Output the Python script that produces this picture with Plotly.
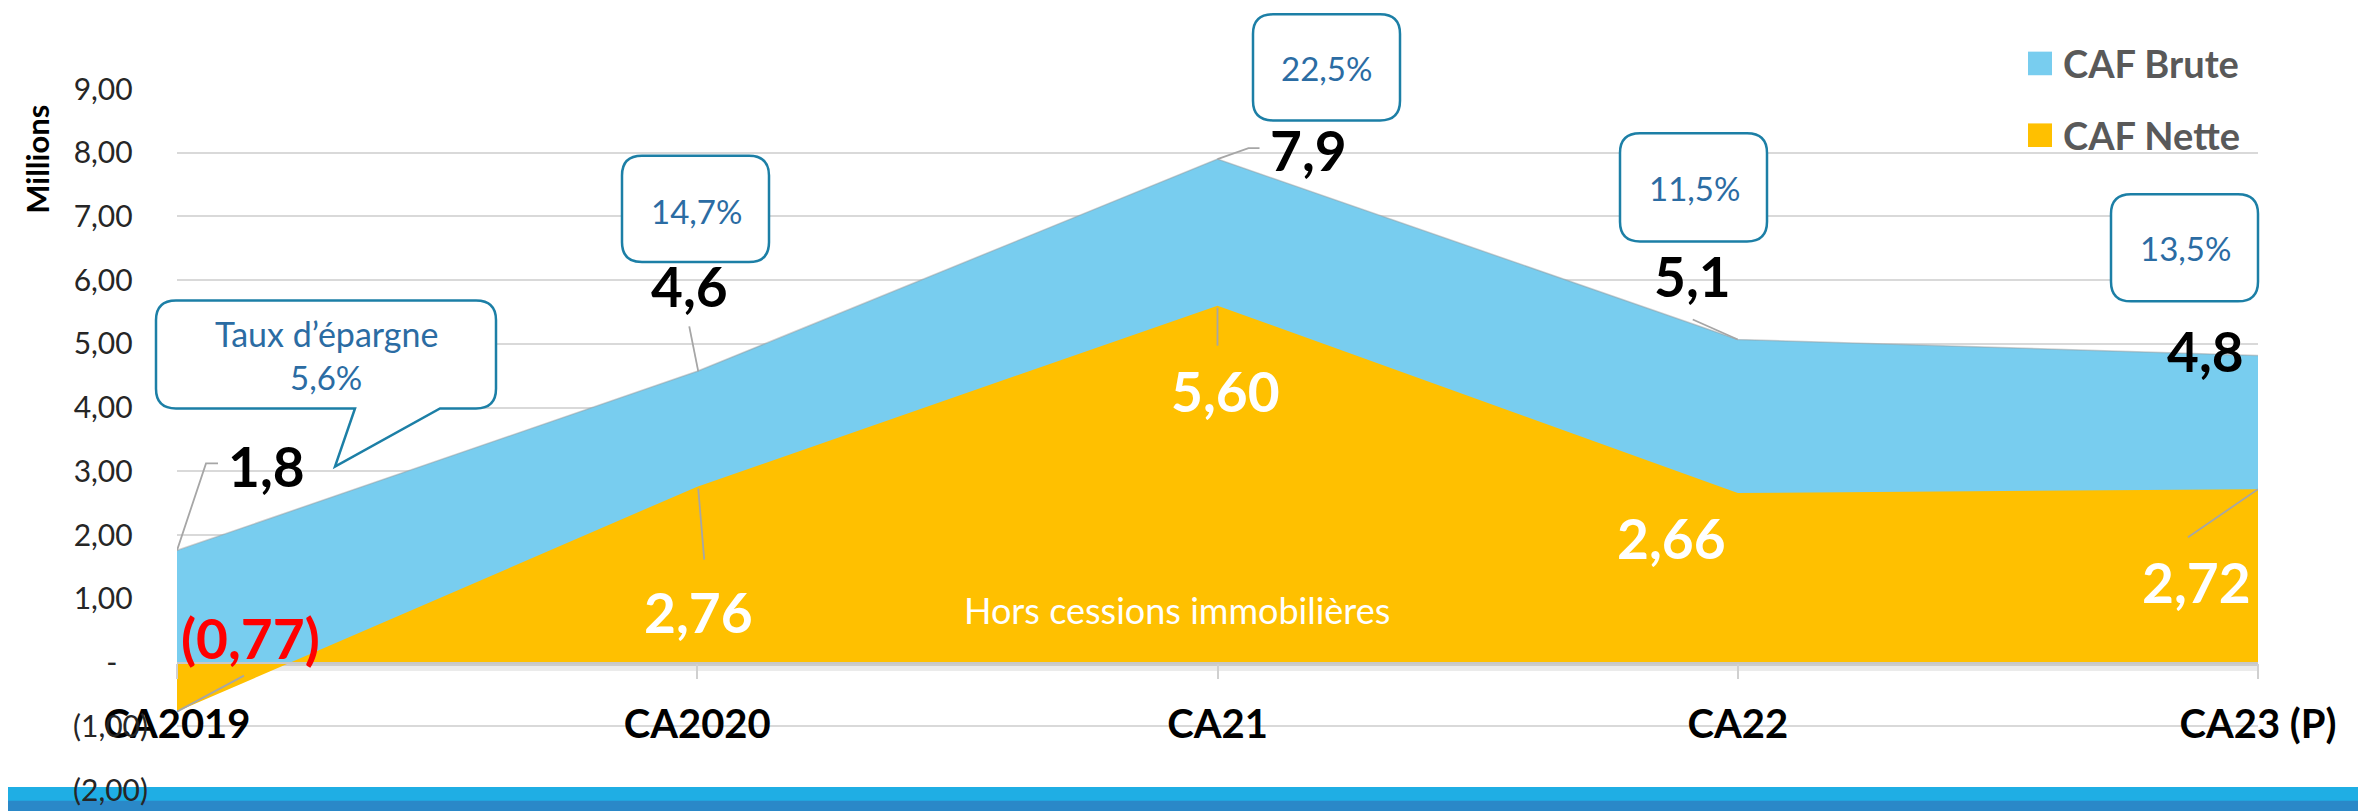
import plotly.graph_objects as go

# ---------------- data ----------------
categories = ["CA2019", "CA2020", "CA21", "CA22", "CA23 (P)"]
caf_brute = [1.76, 4.57, 7.90, 5.07, 4.82]
caf_nette = [-0.77, 2.76, 5.60, 2.66, 2.72]
taux_epargne = ["5,6%", "14,7%", "22,5%", "11,5%", "13,5%"]
y_tickvals = [-2, -1, 0, 1, 2, 3, 4, 5, 6, 7, 8, 9]

NB = "\u00a0"


def ytick(v):
    if v < 0:
        return f"({abs(v):.2f})".replace(".", ",")
    if v == 0:
        return "-" + NB * 4
    return f"{v:.2f}".replace(".", ",") + NB * 2


y_ticktext = [ytick(v) for v in y_tickvals]


def fmt_brute(v):
    return f"{v:.1f}".replace(".", ",")


def fmt_nette(v):
    s = f"{abs(v):.2f}".replace(".", ",")
    return f"({s})" if v < 0 else s


# ---------------- layout constants ----------------
W, H = 2366, 811
L, R, T, B = 169, 116, 81, 17
PW, PH = W - L - R, H - T - B
FONT = "Lato"
BLUE = "#78CDEF"
YELLOW = "#FFC000"
BOX_LINE = "#1C7FA6"
BOX_TEXT = "#2B6CA3"
GRID = "#D9D9D9"
LEADER = "#A6A6A6"


def px(x):
    return (x - L) / PW


def py(y):
    return (H - B - y) / PH


def rbox_path(x0, y0, x1, y1, r, tail=None):
    pts = []
    pts.append(f"M{px(x0 + r)},{py(y0)}")
    pts.append(f"L{px(x1 - r)},{py(y0)}")
    pts.append(f"Q{px(x1)},{py(y0)} {px(x1)},{py(y0 + r)}")
    pts.append(f"L{px(x1)},{py(y1 - r)}")
    pts.append(f"Q{px(x1)},{py(y1)} {px(x1 - r)},{py(y1)}")
    if tail:
        (ta, tip, tb) = tail
        pts.append(f"L{px(ta)},{py(y1)}")
        pts.append(f"L{px(tip[0])},{py(tip[1])}")
        pts.append(f"L{px(tb)},{py(y1)}")
    pts.append(f"L{px(x0 + r)},{py(y1)}")
    pts.append(f"Q{px(x0)},{py(y1)} {px(x0)},{py(y1 - r)}")
    pts.append(f"L{px(x0)},{py(y0 + r)}")
    pts.append(f"Q{px(x0)},{py(y0)} {px(x0 + r)},{py(y0)}")
    pts.append("Z")
    return " ".join(pts)


def paper_text(x, y, text, size, color, bold=False, xanchor="center", angle=0):
    return dict(x=px(x), y=py(y), xref="paper", yref="paper", text=text, showarrow=False,
                xanchor=xanchor, yanchor="middle", textangle=angle,
                font=dict(family=FONT, size=size, color=color, weight="bold" if bold else "normal"))


fig = go.Figure()
fig.add_trace(go.Scatter(
    x=categories, y=caf_brute, name="CAF Brute", mode="lines",
    fill="tozeroy", fillcolor=BLUE,
    line=dict(color="rgba(150,150,150,0.45)", width=1.5),
    showlegend=False, hoverinfo="skip"))
fig.add_trace(go.Scatter(
    x=categories, y=caf_nette, name="CAF Nette", mode="none",
    fill="tozeroy", fillcolor=YELLOW, showlegend=False, hoverinfo="skip"))

shapes = []
annotations = []

# bottom slide band
shapes.append(dict(type="rect", xref="paper", yref="paper", x0=px(-20), x1=px(W + 20),
                   y0=py(791), y1=py(H + 5), fillcolor="#1FAEE4", line=dict(width=0), layer="below"))
shapes.append(dict(type="rect", xref="paper", yref="paper", x0=px(-20), x1=px(W + 20),
                   y0=py(805), y1=py(H + 5), fillcolor="#2A88C8", line=dict(width=0), layer="below"))
# shadow below the zero line
shapes.append(dict(type="rect", xref="paper", yref="paper", x0=0, x1=1,
                   y0=py(664), y1=py(668), fillcolor="rgba(0,0,0,0.20)", line=dict(width=0), layer="below"))
shapes.append(dict(type="rect", xref="paper", yref="paper", x0=0, x1=1,
                   y0=py(668), y1=py(673), fillcolor="rgba(0,0,0,0.08)", line=dict(width=0), layer="below"))

# data labels
brute_shift = [(89, 84), (-8, 85), (91, 9), (-45, 63), (-53, 4)]
nette_shift = [(73, 74), (1, -125), (8, -85), (-66, -45), (-62, -93)]
for i, c in enumerate(categories):
    annotations.append(dict(x=c, y=caf_brute[i], xref="x", yref="y", text=fmt_brute(caf_brute[i]),
                            showarrow=False, xshift=brute_shift[i][0], yshift=brute_shift[i][1],
                            xanchor="center", yanchor="middle",
                            font=dict(family=FONT, size=55, color="black", weight="bold")))
    annotations.append(dict(x=c, y=caf_nette[i], xref="x", yref="y", text=fmt_nette(caf_nette[i]),
                            showarrow=False, xshift=nette_shift[i][0], yshift=nette_shift[i][1],
                            xanchor="center", yanchor="middle",
                            font=dict(family=FONT, size=55,
                                      color="#FF0000" if caf_nette[i] < 0 else "white", weight="bold")))

# leader lines (pixel offsets from the data point)
brute_leaders = {0: "M0,0 L29,87 L41,87", 1: "M1,0 L-8,45", 2: "M0,0 L31,11 L42,11", 3: "M0,0 L-45,20"}
nette_leaders = {0: "M0,0 L67,36", 1: "M1,-2 L7,-73", 2: "M0,-2 L0,-40", 4: "M0,0 L-70,-48"}
for series, leaders in ((caf_brute, brute_leaders), (caf_nette, nette_leaders)):
    for i, path in leaders.items():
        shapes.append(dict(type="path", xref="x", yref="y", xsizemode="pixel", ysizemode="pixel",
                           xanchor=categories[i], yanchor=series[i], path=path,
                           line=dict(color=LEADER, width=1.8), layer="above"))

# savings-rate callouts
boxes = [
    ((148, 296, 488, 406), (432, (327, 465), 347)),
    ((614, 149, 761, 257), None),
    ((1245, 5, 1392, 113), None),
    ((1612, 126, 1759, 236), None),
    ((2103, 188, 2250, 297), None),
]
box_text_pos = [None, (688, 205), (1318, 60), (1686, 182), (2177, 243)]
for (rect, tail) in boxes:
    shapes.append(dict(type="path", xref="paper", yref="paper", path=rbox_path(*rect, 20, tail),
                       fillcolor="white", line=dict(color=BOX_LINE, width=2.5), layer="above"))
annotations.append(paper_text(318, 330, "Taux d\u2019épargne", 34, BOX_TEXT))
annotations.append(paper_text(318, 374, taux_epargne[0], 33, BOX_TEXT))
for i in range(1, len(taux_epargne)):
    tx, ty = box_text_pos[i]
    annotations.append(paper_text(tx, ty, taux_epargne[i], 33, BOX_TEXT))

# note
annotations.append(paper_text(1169, 611, "Hors cessions immobilières", 36, "white"))
# axis title
annotations.append(paper_text(29, 153, "Millions", 31, "black", bold=True, angle=-90))

# manual legend
for (name, col, yc) in (("CAF Brute", BLUE, 55), ("CAF Nette", YELLOW, 128)):
    shapes.append(dict(type="rect", xref="paper", yref="paper", x0=px(2020), x1=px(2044),
                       y0=py(yc - 12), y1=py(yc + 12), fillcolor=col, line=dict(width=0), layer="above"))
    annotations.append(paper_text(2053, yc, name, 38, "#595959", bold=True, xanchor="left"))

fig.update_layout(
    width=W, height=H, autosize=False,
    margin=dict(l=L, r=R, t=T, b=B, pad=0),
    paper_bgcolor="white", plot_bgcolor="white",
    showlegend=False, font=dict(family=FONT),
    shapes=shapes, annotations=annotations,
)
fig.update_xaxes(
    type="category", range=[0, 4], anchor="free", position=2 / 11,
    showgrid=False, zeroline=False, showline=True, linecolor="#C8C8C8", linewidth=2,
    ticks="outside", ticklen=15, tickwidth=1.5, tickcolor="#D0D0D0",
    tickfont=dict(family=FONT, size=40, color="black", weight="bold"),
    ticklabelstandoff=11,
)
fig.update_yaxes(
    range=[-2, 9], tickvals=y_tickvals, ticktext=y_ticktext,
    showgrid=True, gridcolor=GRID, gridwidth=1.5, zeroline=False, showline=False,
    ticks="", tickfont=dict(family=FONT, size=30, color="#262626"),
    ticklabelstandoff=28,
)

fig.write_html("out.html")
